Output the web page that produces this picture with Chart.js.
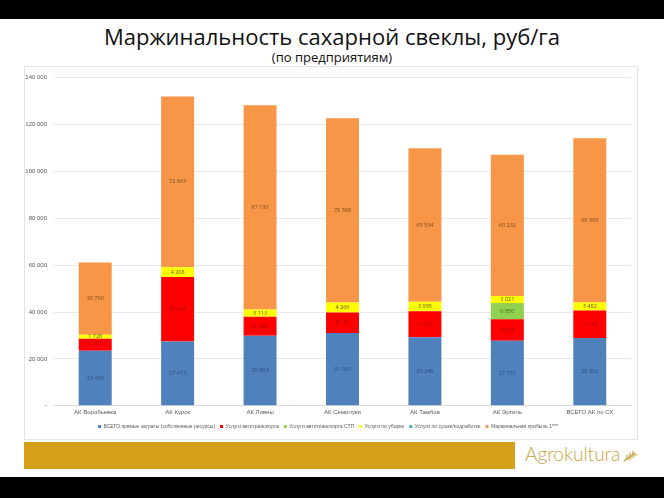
<!DOCTYPE html>
<html lang="ru">
<head>
<meta charset="utf-8">
<title>Маржинальность сахарной свеклы</title>
<script src="https://cdn.jsdelivr.net/npm/chart.js@4"></script>
<style>
  html, body { margin: 0; padding: 0; }
  body { width: 664px; height: 498px; background: #fff; position: relative; overflow: hidden; font-family: "Open Sans", sans-serif; }
  .band { position: absolute; left: 0; width: 664px; background: #000; }
  .band.top { top: 0; height: 19px; }
  .band.bottom { top: 477px; height: 21px; }
  .title { position: absolute; left: 0; width: 664px; text-align: center; color: #111; }
  .title.main { top: 21px; font-size: 22px; line-height: 30px; }
  .title.sub { top: 48px; font-size: 13px; line-height: 18px; }
  .panel { position: absolute; left: 24px; top: 66px; width: 614px; height: 374px; border: 1px solid #e4e4e4; box-sizing: border-box; }
  .gold { position: absolute; left: 24px; top: 442px; width: 491px; height: 27px; background: #d4a017; }
  .logo { position: absolute; left: 525px; top: 441px; font-family: Lato, sans-serif; font-weight: 300; font-size: 19px; color: #c9a13b; line-height: 26px; }
  .logo svg { vertical-align: -1px; margin-left: 3px; }
</style>
</head>
<body>
<div class="band top"></div>
<div class="title main">Маржинальность сахарной свеклы, руб/га</div>
<div class="title sub">(по предприятиям)</div>
<div class="panel"><canvas id="marginChart"></canvas></div>
<div class="gold"></div>
<div class="logo">Agrokultura<svg width="16" height="13" viewBox="0 0 16 13"><g stroke="#c9a13b" stroke-width="1.2" fill="none" stroke-linecap="round"><path d="M1 12 L12 4"/><path d="M4 10 L4 6"/><path d="M7 8 L7 4"/><path d="M10 6 L10 2"/><path d="M4 10 L8 10"/><path d="M7 8 L11 8"/><path d="M10 6 L14 6"/></g></svg></div>
<div class="band bottom"></div>
<script>
  const farms = ['АК Воробьевка', 'АК Курск', 'АК Ливны', 'АК Семилуки', 'АК Тамбов', 'АК Эртиль', 'ВСЕГО АК по СХ'];
  const directCosts = [23436, 27413, 29853, 31039, 29248, 27751, 28902];
  const transport = [5167, 27505, 8126, 8771, 11131, 9214, 11731];
  const transportStp = [0, 0, 0, 0, 0, 6850, 0];
  const harvesting = [1728, 4208, 3113, 4266, 3995, 3021, 3482];
  const drying = [0, 0, 0, 0, 0, 0, 0];
  const marginProfit = [30760, 72863, 87130, 78588, 65534, 60232, 69999];
  const yTicks = [0, 20000, 40000, 60000, 80000, 100000, 120000, 140000];

  const fmt = (v) => v === 0 ? '-' : String(v).replace(/\B(?=(\d{3})+(?!\d))/g, ' ');

  const series = [
    { label: 'ВСЕГО прямые затраты (собственные ресурсы)', data: directCosts, color: '#4f81bd', text: '#2f4f7a' },
    { label: 'Услуги автотранспорта', data: transport, color: '#ff0000', text: '#a00000' },
    { label: 'Услуги автотранспорта СТП', data: transportStp, color: '#92d050', text: '#3f6a1f' },
    { label: 'Услуги по уборке', data: harvesting, color: '#ffff00', text: '#5a5a20' },
    { label: 'Услуги по сушке/подработке', data: drying, color: '#4bacc6', text: '#2a5a6a' },
    { label: 'Маржинальная прибыль 1***', data: marginProfit, color: '#f79646', text: '#7a4a25' }
  ];

  const segmentLabels = {
    id: 'segmentLabels',
    afterDatasetsDraw(chart) {
      const ctx = chart.ctx;
      ctx.save();
      ctx.font = '5.5px "Open Sans", sans-serif';
      ctx.textAlign = 'center';
      ctx.textBaseline = 'middle';
      chart.data.datasets.forEach((ds, i) => {
        const meta = chart.getDatasetMeta(i);
        meta.data.forEach((bar, j) => {
          const v = ds.data[j];
          if (!v) return;
          ctx.fillStyle = series[i].text;
          ctx.fillText(fmt(v), bar.x, (bar.y + bar.base) / 2);
        });
      });
      ctx.restore();
    }
  };

  new Chart(document.getElementById('marginChart'), {
    type: 'bar',
    data: {
      labels: farms,
      datasets: series.map((s) => ({
        label: s.label,
        data: s.data,
        backgroundColor: s.color,
        borderWidth: 0,
        categoryPercentage: 1,
        barPercentage: 0.4
      }))
    },
    options: {
      responsive: true,
      maintainAspectRatio: false,
      animation: false,
      layout: { padding: { left: 0, right: 6, top: 1, bottom: 0 } },
      scales: {
        x: {
          stacked: true,
          grid: { display: false, drawTicks: false },
          border: { color: '#d9d9d9' },
          ticks: { color: '#595959', font: { size: 6 }, padding: 3, maxRotation: 0 }
        },
        y: {
          stacked: true,
          min: 0,
          max: 140000,
          afterBuildTicks: (axis) => { axis.ticks = yTicks.map((v) => ({ value: v })); },
          afterFit: (axis) => { axis.width = 29; },
          grid: { color: '#e8e8e8', drawTicks: false },
          border: { display: false },
          ticks: { color: '#595959', font: { size: 6 }, padding: 7, callback: (v) => fmt(v) }
        }
      },
      plugins: {
        legend: {
          position: 'bottom',
          labels: { boxWidth: 3, boxHeight: 3, padding: 5, color: '#595959', font: { size: 5 } }
        },
        tooltip: { enabled: false }
      }
    },
    plugins: [segmentLabels]
  });
</script>
</body>
</html>
